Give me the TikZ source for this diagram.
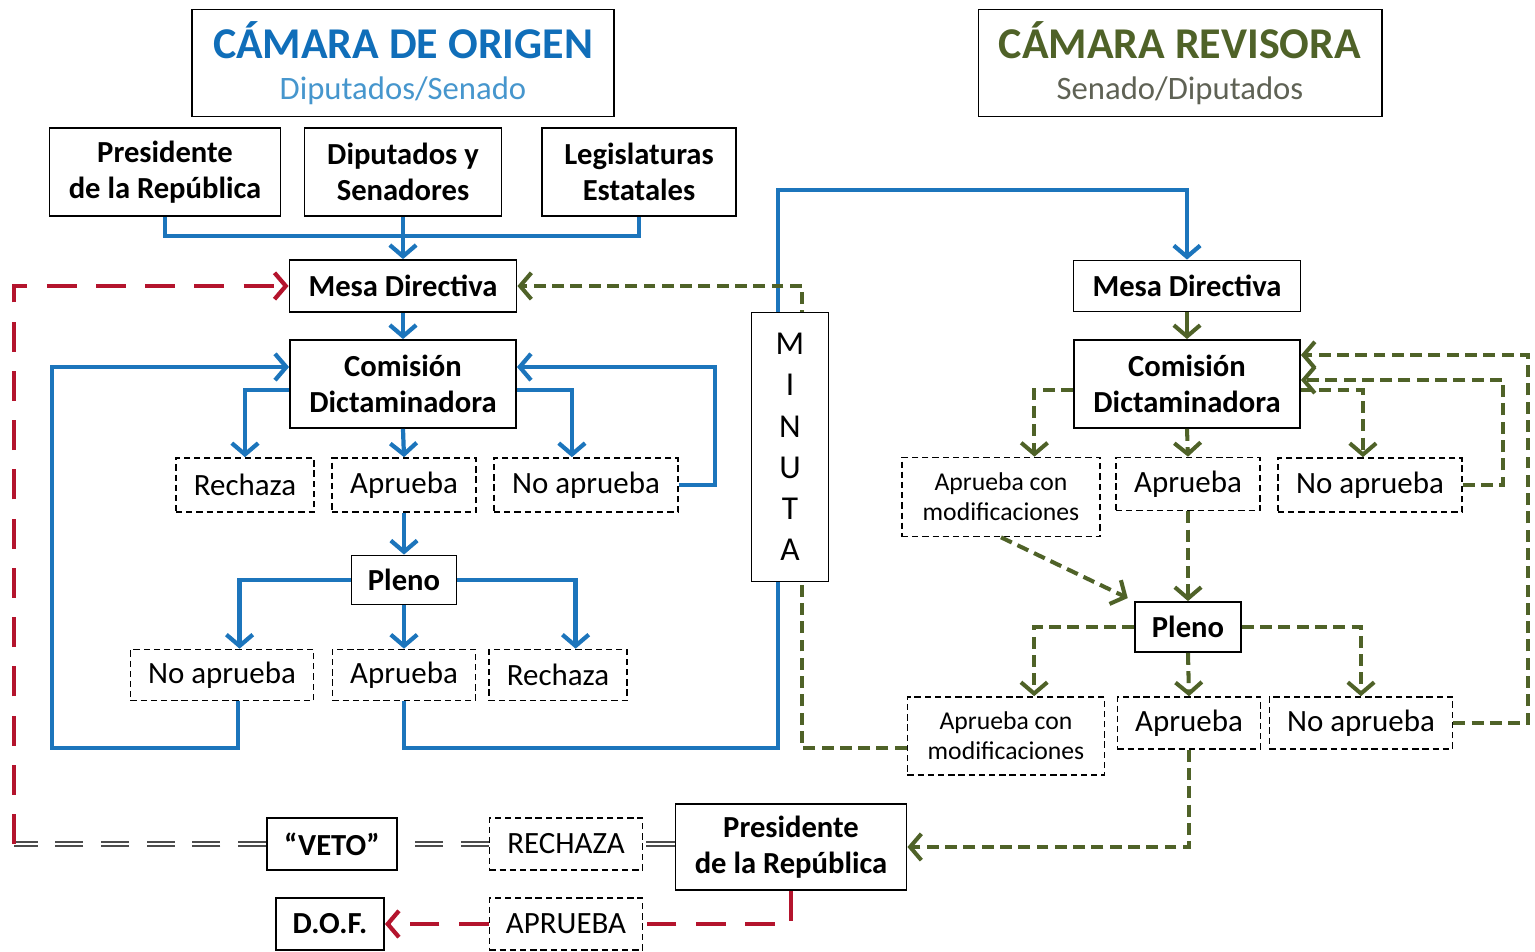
\documentclass[tikz,border=0pt]{standalone}
\usepackage{fontspec}
\setmainfont{Carlito}
\usetikzlibrary{positioning, arrows.meta}
\definecolor{azul}{RGB}{28,117,188}
\definecolor{azulT}{RGB}{16,110,185}
\definecolor{azulS}{RGB}{70,150,205}
\definecolor{verde}{RGB}{79,98,40}
\definecolor{verdeS}{RGB}{95,98,85}
\definecolor{rojo}{RGB}{180,20,45}

\begin{document}
\begin{tikzpicture}[x=0.01cm, y=-0.01cm,
    caja/.style={draw, line width=0.5pt, fill=white, inner sep=0pt, align=center,
        font=\fontsize{8.7}{10.2}\selectfont\bfseries},
    opcion/.style={draw, line width=0.45pt, dash pattern=on 1.8pt off 1.1pt, inner sep=0pt,
        align=center, font=\fontsize{8.8}{10.2}\selectfont},
    opchica/.style={opcion, font=\fontsize{7.3}{8.5}\selectfont},
    titulo/.style={draw, line width=0.5pt, inner sep=0pt, align=center,
        font=\fontsize{12.5}{11.7}\selectfont},
    flecha/.style={-{Straight Barb[length=3.2pt,width=7.5pt]}},
    azulL/.style={draw=azul, line width=1.2pt},
    verdeL/.style={draw=verde, line width=1.15pt},
    verdeD/.style={verdeL, dash pattern=on 3.4pt off 1.8pt},
    rojoD/.style={draw=rojo, line width=1.2pt, dash pattern=on 8.5pt off 5.5pt},
    doble/.style={draw=black!70, double=white, double distance=0.7pt, line width=0.45pt,
        dash pattern=on 8pt off 5pt}]
    \useasboundingbox (0,0) rectangle (1535,952);

    % Titulos
    \node[titulo, minimum width=4.22cm, minimum height=1.07cm] (origen) at (403,63)
        {\bfseries\color{azulT}CÁMARA DE ORIGEN\\{\fontsize{9.3}{11}\selectfont\color{azulS}Diputados/Senado}};
    \node[titulo, minimum width=4.03cm, minimum height=1.07cm] (revisora) at (1180,63)
        {\bfseries\color{verde}CÁMARA REVISORA\\{\fontsize{9.3}{11}\selectfont\color{verdeS}Senado/Diputados}};

    % Camara de origen
    \node[caja, minimum width=2.31cm, minimum height=0.88cm] (presA) at (165,172) {Presidente\\de la República};
    \node[caja, minimum width=1.97cm, minimum height=0.88cm] (dipsen) at (403,172) {Diputados y\\Senadores};
    \node[caja, minimum width=1.94cm, minimum height=0.88cm] (legis) at (639,172) {Legislaturas\\Estatales};
    \node[caja, minimum width=2.27cm, minimum height=0.52cm] (mesaO) at (403,286) {Mesa Directiva};
    \node[caja, minimum width=2.26cm, minimum height=0.88cm] (comO) at (403,384) {Comisión\\Dictaminadora};
    \node[opcion, minimum width=1.38cm, minimum height=0.54cm] (rechO) at (245,485) {Rechaza};
    \node[opcion, minimum width=1.44cm, minimum height=0.54cm] (aprO) at (404,485) {Aprueba};
    \node[opcion, minimum width=1.84cm, minimum height=0.54cm] (noaprO) at (586,485) {No aprueba};
    \node[caja, minimum width=1.05cm, minimum height=0.49cm] (plenoO) at (404,580) {Pleno};
    \node[opcion, minimum width=1.83cm, minimum height=0.51cm] (noaprO2) at (222,675) {No aprueba};
    \node[opcion, minimum width=1.43cm, minimum height=0.51cm] (aprO2) at (404,675) {Aprueba};
    \node[opcion, minimum width=1.38cm, minimum height=0.51cm] (rechO2) at (558,675) {Rechaza};

    % Camara revisora
    \node[caja, minimum width=2.27cm, minimum height=0.51cm] (mesaR) at (1187,286) {Mesa Directiva};
    \node[caja, minimum width=2.26cm, minimum height=0.88cm] (comR) at (1187,384) {Comisión\\Dictaminadora};
    \node[opchica, minimum width=1.98cm, minimum height=0.79cm] (modR) at (1001,497) {Aprueba con\\modificaciones};
    \node[opcion, minimum width=1.44cm, minimum height=0.53cm] (aprR) at (1188,484) {Aprueba};
    \node[opcion, minimum width=1.84cm, minimum height=0.54cm] (noaprR) at (1370,485) {No aprueba};
    \node[caja, minimum width=1.06cm, minimum height=0.50cm] (plenoR) at (1188,627) {Pleno};
    \node[opchica, minimum width=1.97cm, minimum height=0.78cm] (modR2) at (1006,736) {Aprueba con\\modificaciones};
    \node[opcion, minimum width=1.43cm, minimum height=0.52cm] (aprR2) at (1189,723) {Aprueba};
    \node[opcion, minimum width=1.83cm, minimum height=0.52cm] (noaprR2) at (1361,723) {No aprueba};

    % Ejecutivo
    \node[caja, minimum width=2.31cm, minimum height=0.86cm] (pres) at (791,847) {Presidente\\de la República};
    \node[opcion, minimum width=1.53cm, minimum height=0.52cm] (rechaza) at (566,844) {RECHAZA};
    \node[opcion, minimum width=1.53cm, minimum height=0.52cm] (aprueba) at (566,924) {APRUEBA};
    \node[caja, minimum width=1.30cm, minimum height=0.52cm] (veto) at (332,844) {“VETO”};
    \node[caja, minimum width=1.08cm, minimum height=0.52cm] (dof) at (330,924) {D.O.F.};

    % Puntos de giro
    \coordinate (junta) at (403,236);
    \coordinate (ramaO) at (0,390);
    \coordinate (ramaR) at (0,390);
    \coordinate (bucleI) at (52,748);
    \coordinate (bucleI2) at (52,367);
    \coordinate (bucleD) at (715,367);
    \coordinate (minA) at (778,748);
    \coordinate (minB) at (778,190);
    \coordinate (vuelta) at (802,748);
    \coordinate (lazo1) at (1503,380);
    \coordinate (lazo2) at (1528,355);
    \coordinate (esquina) at (14,844);

    % Flujo camara de origen
    \draw[azulL] (presA.south) |- (junta) -| (legis.south);
    \draw[azulL, flecha] (dipsen.south) -- (mesaO.north);
    \draw[azulL, flecha] (mesaO.south) -- (comO.north);
    \draw[azulL, flecha] (comO.west |- ramaO) -| (rechO.north);
    \draw[azulL, flecha] (comO.south) -- (aprO.north);
    \draw[azulL, flecha] (comO.east |- ramaO) -| ([xshift=-4pt]noaprO.north);
    \draw[azulL, flecha] (noaprO.east) -| (bucleD) -- (bucleD -| comO.east);
    \draw[azulL, flecha] (aprO.south) -- (plenoO.north);
    \draw[azulL, flecha] (plenoO.west) -| ([xshift=5pt]noaprO2.north);
    \draw[azulL, flecha] (plenoO.south) -- (aprO2.north);
    \draw[azulL, flecha] (plenoO.east) -| ([xshift=5pt]rechO2.north);
    \draw[azulL, flecha] ([xshift=4.5pt]noaprO2.south) |- (bucleI) -- (bucleI2) -- (bucleI2 -| comO.west);
    \draw[azulL, flecha] (aprO2.south) |- (minA) -- (minB) -| (mesaR.north);

    % Flujo camara revisora
    \draw[verdeL, flecha] (mesaR.south) -- (comR.north);
    \draw[verdeD, flecha] (comR.west |- ramaR) -| ([xshift=9.5pt]modR.north);
    \draw[verdeD, flecha] (comR.south) -- (aprR.north);
    \draw[verdeD, flecha] (comR.east |- ramaR) -| ([xshift=-2pt]noaprR.north);
    \draw[verdeD, flecha] (noaprR.east) -| (lazo1) -- (lazo1 -| comR.east);
    \draw[verdeD, flecha] (noaprR2.east) -| (lazo2) -- (lazo2 -| comR.east);
    \draw[verdeD, flecha, shorten >=2pt] (modR.south) -- (plenoR.north west);
    \draw[verdeD, flecha] (aprR.south) -- (plenoR.north);
    \draw[verdeD, flecha] (plenoR.west) -| ([xshift=8pt]modR2.north);
    \draw[verdeD, flecha] (plenoR.south) -- (aprR2.north);
    \draw[verdeD, flecha] (plenoR.east) -| (noaprR2.north);
    \draw[verdeD, flecha] (aprR2.south) |- (pres.east);
    \draw[verdeD, flecha] (vuelta -| modR2.west) -- (vuelta) |- (mesaO.east);

    % Ejecutivo
    \draw[rojoD] (pres.south) |- (aprueba.east);
    \draw[rojoD, flecha] (aprueba.west) -- (dof.east);
    \draw[doble] (pres.west |- rechaza.east) -- (rechaza.east);
    \draw[doble] (rechaza.west) -- (veto.east);
    \draw[doble] (veto.west) -- (esquina);
    \draw[rojoD, flecha] (esquina) |- (mesaO.west);

    % Minuta
    \node[caja, fill=white, minimum width=0.77cm, minimum height=2.69cm,
        font=\fontsize{9.5}{11.7}\selectfont] (minuta) at (790,447) {M\\I\\N\\U\\T\\A};
\end{tikzpicture}
\end{document}
